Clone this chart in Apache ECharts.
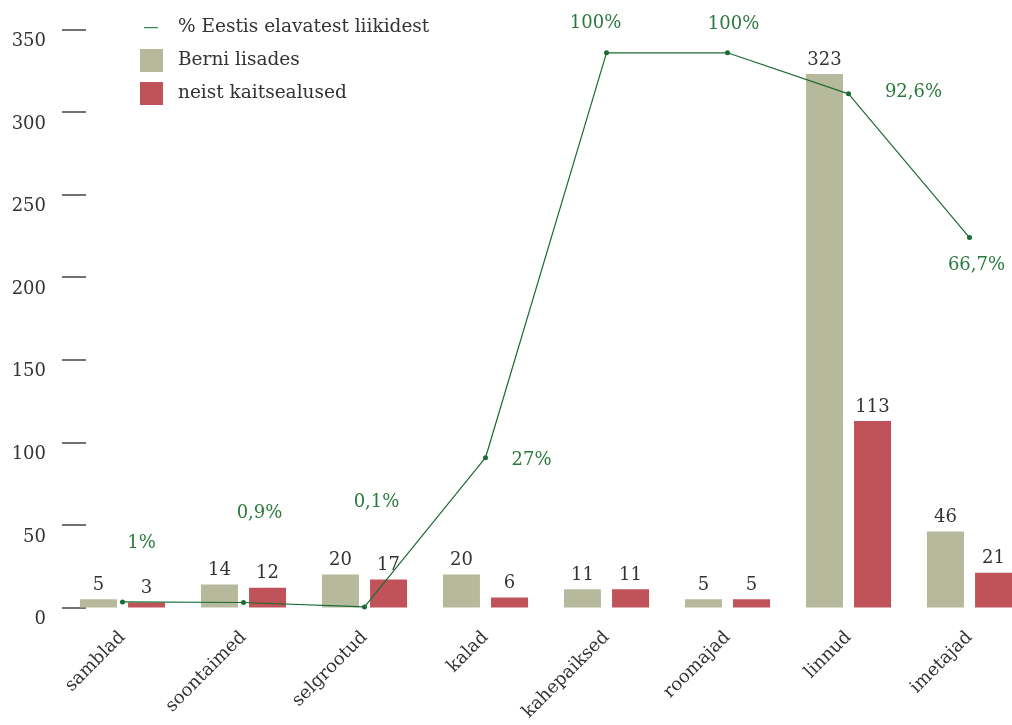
<!DOCTYPE html>
<html>
<head>
    <meta charset="utf-8"/>
    <title>Berni lisade liigid</title>
    <style>
        html, body { margin: 0; padding: 0; background: #fff; }
        #main { width: 1012px; height: 725px; }
    </style>
</head>
<body>
<div id="main"></div>
<script src="https://cdn.jsdelivr.net/npm/echarts@6/dist/echarts.min.js"></script>
<script>
    // andmed
    var categories = ['samblad', 'soontaimed', 'selgrootud', 'kalad', 'kahepaiksed', 'roomajad', 'linnud', 'imetajad'];
    var berniLisades = [5, 14, 20, 20, 11, 5, 323, 46];
    var kaitsealused = [3, 12, 17, 6, 11, 5, 113, 21];
    var protsentEestis = [1, 0.9, 0.1, 27, 100, 100, 92.6, 66.7];
    var yTicks = [0, 50, 100, 150, 200, 250, 300, 350];

    // protsendisiltide nihked punktist (px)
    var pctLabelShift = [[19, -59], [16, -89], [12, -105], [46, 3], [-11, -29], [6, -28], [65, -2], [7, 28]];

    var font = 'DejaVu Serif';
    var green = '#1b6b33';

    var myChart = echarts.init(document.getElementById('main'));

    var lineData = protsentEestis.map(function (v, i) {
        return {
            value: v,
            label: { offset: pctLabelShift[i] }
        };
    });

    var option = {
        animation: false,
        legend: {
            orient: 'vertical',
            left: 140,
            top: 16,
            padding: 0,
            itemWidth: 23,
            itemHeight: 23,
            itemGap: 10,
            textStyle: { fontFamily: font, fontSize: 18.5, color: '#333', padding: [0, 0, 0, 10] },
            data: [
                { name: '% Eestis elavatest liikidest',
                  icon: 'path://M4,11L18,11L18,12.2L4,12.2Z M0,0L0.01,0L0.01,0.01Z M23,23L23.01,23L23.01,23.01Z',
                  itemStyle: { color: '#3d8a58' } },
                { name: 'Berni lisades', icon: 'rect' },
                { name: 'neist kaitsealused', icon: 'rect' }
            ]
        },
        grid: { left: 62, top: 29.5, width: 968, bottom: 117.5, outerBoundsMode: 'none' },
        xAxis: {
            type: 'category',
            data: categories,
            axisLine: { show: false },
            axisTick: { show: false },
            axisLabel: {
                rotate: 45,
                margin: 27,
                fontFamily: font,
                fontSize: 18,
                color: '#333'
            }
        },
        yAxis: [
            {
                type: 'value',
                min: 0,
                max: 350,
                interval: 50,
                splitLine: { show: false },
                axisLine: { show: false },
                axisTick: { show: true, inside: true, length: 24, lineStyle: { color: '#444', width: 1.5 } },
                axisLabel: {
                    margin: 16,
                    verticalAlign: 'top',
                    padding: [3, 0, 0, 0],
                    fontFamily: font,
                    fontSize: 18,
                    color: '#333',
                    formatter: function (v) { return yTicks.indexOf(v) >= 0 ? String(v) : ''; }
                }
            },
            {
                type: 'value',
                min: 0,
                max: 104.2,
                show: false,
                splitLine: { show: false }
            }
        ],
        series: [
            {
                name: 'Berni lisades',
                type: 'bar',
                data: berniLisades,
                barWidth: 37,
                barGap: '30%',
                itemStyle: { color: '#b6b99c' },
                label: { show: true, position: 'top', distance: 5, fontFamily: font, fontSize: 18, color: '#333' }
            },
            {
                name: 'neist kaitsealused',
                type: 'bar',
                data: kaitsealused,
                barWidth: 37,
                barGap: '30%',
                itemStyle: { color: '#c0535a' },
                label: { show: true, position: 'top', distance: 5, fontFamily: font, fontSize: 18, color: '#333' }
            },
            {
                name: '% Eestis elavatest liikidest',
                type: 'line',
                yAxisIndex: 1,
                data: lineData,
                symbol: 'circle',
                symbolSize: 5,
                lineStyle: { color: green, width: 1.2 },
                itemStyle: { color: green },
                label: {
                    show: true,
                    position: 'inside',
                    align: 'center',
                    verticalAlign: 'middle',
                    fontFamily: font,
                    fontSize: 18,
                    color: '#2a7a3c',
                    formatter: function (p) { return String(p.value).replace('.', ',') + '%'; }
                }
            }
        ]
    };

    myChart.setOption(option);

    window.onresize = function () {
        myChart.resize();
    };
</script>
</body>
</html>
